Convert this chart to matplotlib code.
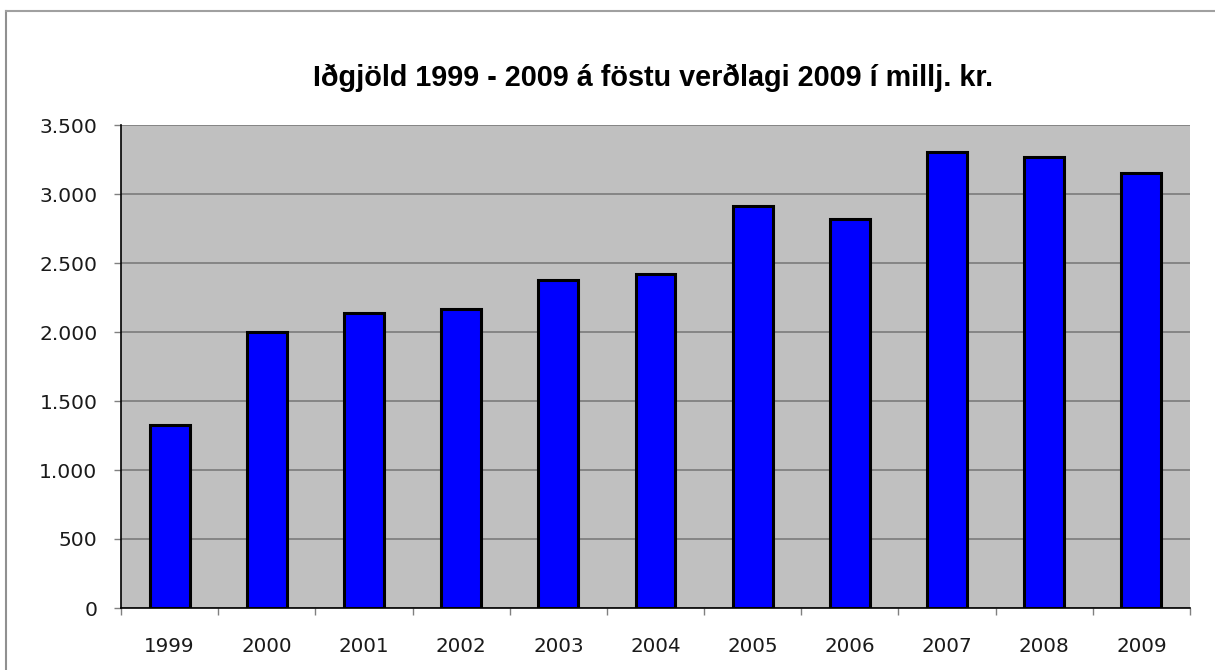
import matplotlib
matplotlib.use("Agg")
import matplotlib.pyplot as plt
from matplotlib.lines import Line2D
from matplotlib.ticker import FuncFormatter, MultipleLocator
import numpy as np

years = ["1999", "2000", "2001", "2002", "2003", "2004", "2005", "2006", "2007", "2008", "2009"]
values = [1325, 2000, 2140, 2167, 2378, 2418, 2912, 2820, 3305, 3265, 3152]
title = "Iðgjöld 1999 - 2009 á föstu verðlagi 2009 í millj. kr."

W, H = 1215, 670
fig = plt.figure(figsize=(W / 100, H / 100), dpi=100)
fig.patch.set_facecolor("white")

left, right, top, bottom = 121, 1190, 125, 608
ax = fig.add_axes([left / W, 1 - bottom / H, (right - left) / W, (bottom - top) / H])
ax.set_facecolor("#c0c0c0")

x = np.arange(len(years))
ax.bar(x, values, width=0.41, color="#0000ff", edgecolor="black", linewidth=2.2, zorder=3)

ax.set_xlim(-0.5, len(years) - 0.5)
ax.set_ylim(0, 3500)
ax.yaxis.set_major_locator(MultipleLocator(500))
ax.yaxis.set_major_formatter(FuncFormatter(lambda v, p: f"{int(v):,}".replace(",", ".")))
ax.grid(axis="y", color="#808080", linewidth=1.3, zorder=1)
ax.set_axisbelow(True)

ax.set_xticks(x)
ax.set_xticklabels(years)
ax.set_xticks(np.arange(-0.5, len(years)), minor=True)
ax.tick_params(axis="x", which="major", length=0, pad=21, labelsize=14.3)
ax.tick_params(axis="x", which="minor", length=5, width=1, color="#808080", direction="out")
ax.tick_params(axis="y", length=5, width=1, color="#808080", pad=12, labelsize=14.6)

for s in ["top", "right"]:
    ax.spines[s].set_visible(False)
ax.spines["left"].set_color("black")
ax.spines["bottom"].set_color("black")
ax.spines["left"].set_linewidth(1.2)
ax.spines["bottom"].set_linewidth(1.2)

for t in ax.get_xticklabels() + ax.get_yticklabels():
    t.set_color("#1a1a1a")
    t.set_family(["DejaVu Sans"])

fig.text(653 / W, 1 - 86 / H, title, ha="center", va="baseline", fontsize=20.7,
         fontweight="bold", family=["Liberation Sans", "DejaVu Sans"])

fig.add_artist(Line2D([6 / W, 6 / W], [0, 1 - 11 / H], color="#909090", linewidth=1.5,
                      transform=fig.transFigure))
fig.add_artist(Line2D([6 / W, 1], [1 - 11 / H, 1 - 11 / H], color="#a0a0a0", linewidth=1.5,
                      transform=fig.transFigure))

fig.savefig("out.png", dpi=100)
